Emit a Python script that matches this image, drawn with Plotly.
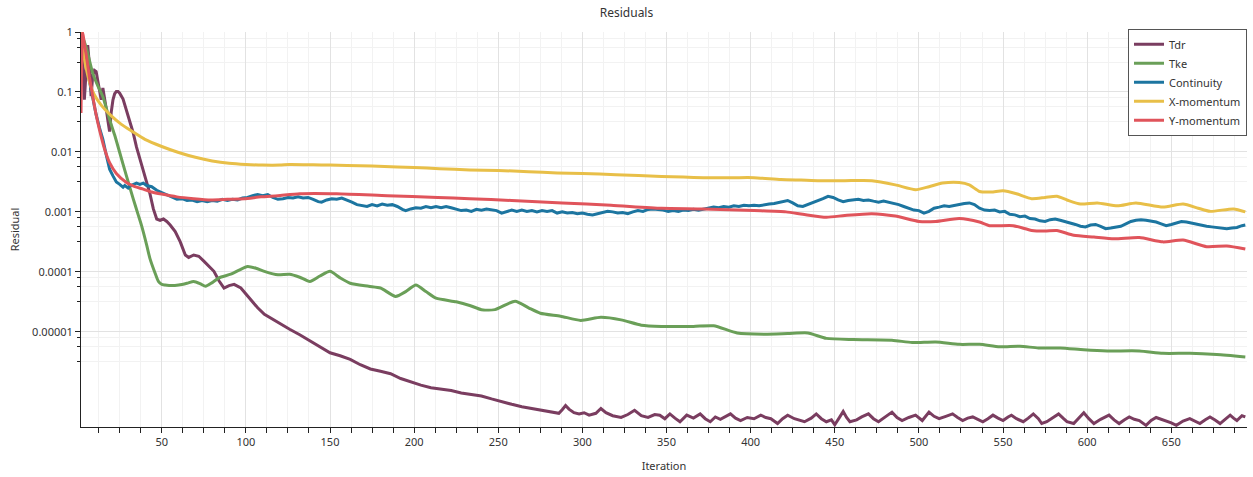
import plotly.graph_objects as go

# ---- residual history (iteration, residual) ----
tdr_iter = [2, 3, 4, 5, 6, 7, 8, 9, 10, 11, 12, 13, 14, 15, 16, 17, 18, 19, 20, 21, 22, 23, 24, 25,
            27, 29, 31, 33, 35, 37, 39, 41, 43, 45, 47, 49, 51, 53, 55, 58, 61, 64, 66, 69, 72, 75,
            78, 81, 84, 87, 90, 93, 97, 100, 103, 107, 111, 115, 119, 126, 132, 138, 144, 150, 156,
            162, 168, 174, 180, 186, 192, 198, 204, 210, 216, 222, 228, 234, 240, 246, 252, 258,
            264, 270, 276, 282, 286, 288, 290, 292, 295, 298, 301, 304, 308, 311, 314, 318, 323,
            327, 331, 335, 339, 343, 346, 349, 352, 355, 358, 362, 366, 370, 373, 376, 379, 382,
            385, 388, 391, 394, 398, 402, 406, 409, 412, 416, 419, 422, 426, 429, 432, 436, 439,
            442, 445, 448, 450, 453, 455, 457, 459, 463, 466, 470, 473, 476, 480, 484, 487, 490,
            494, 498, 502, 506, 509, 512, 516, 520, 523, 526, 529, 532, 535, 538, 541, 544, 547,
            550, 553, 555, 558, 562, 565, 568, 571, 573, 576, 580, 583, 586, 588, 592, 595, 598,
            601, 604, 608, 613, 616, 619, 622, 625, 628, 631, 635, 638, 641, 644, 647, 650, 653,
            657, 661, 664, 667, 670, 673, 676, 679, 682, 685, 687, 689, 692, 694]
tdr_res = [1.0, 0.355, 0.0741, 0.251, 0.603, 0.282, 0.0851, 0.191, 0.229, 0.219, 0.151, 0.120,
           0.0741, 0.117, 0.0832, 0.0525, 0.0331, 0.0219, 0.0468, 0.0741, 0.0933, 0.102, 0.102,
           0.0955, 0.0759, 0.0501, 0.0331, 0.0209, 0.0120, 7.59e-3, 5.01e-3, 3.16e-3, 2.00e-3,
           1.12e-3, 7.59e-4, 7.24e-4, 7.59e-4, 6.92e-4, 6.03e-4, 4.68e-4, 3.16e-4, 1.91e-4,
           1.74e-4, 1.91e-4, 1.82e-4, 1.51e-4, 1.26e-4, 1.02e-4, 7.08e-5, 5.37e-5, 5.89e-5,
           6.17e-5, 5.37e-5, 4.27e-5, 3.39e-5, 2.51e-5, 1.95e-5, 1.66e-5, 1.41e-5, 1.10e-5,
           8.91e-6, 7.08e-6, 5.62e-6, 4.47e-6, 3.98e-6, 3.47e-6, 2.82e-6, 2.40e-6, 2.19e-6,
           2.00e-6, 1.66e-6, 1.45e-6, 1.29e-6, 1.17e-6, 1.10e-6, 1.05e-6, 9.55e-7, 9.12e-7,
           8.51e-7, 7.59e-7, 6.76e-7, 6.17e-7, 5.62e-7, 5.25e-7, 4.90e-7, 4.57e-7, 4.37e-7,
           5.01e-7, 5.89e-7, 5.13e-7, 4.47e-7, 4.27e-7, 4.47e-7, 4.07e-7, 4.37e-7, 5.25e-7,
           4.47e-7, 3.98e-7, 3.72e-7, 4.17e-7, 4.90e-7, 3.98e-7, 3.72e-7, 4.17e-7, 4.07e-7,
           3.55e-7, 4.27e-7, 3.63e-7, 3.16e-7, 4.07e-7, 3.63e-7, 4.27e-7, 3.55e-7, 3.16e-7,
           3.80e-7, 3.47e-7, 3.89e-7, 4.27e-7, 3.63e-7, 3.31e-7, 3.72e-7, 3.55e-7, 4.07e-7,
           3.72e-7, 3.55e-7, 2.95e-7, 3.55e-7, 4.07e-7, 3.55e-7, 3.31e-7, 3.16e-7, 3.63e-7,
           4.27e-7, 3.55e-7, 3.16e-7, 3.39e-7, 2.82e-7, 3.80e-7, 4.68e-7, 3.72e-7, 3.16e-7,
           3.39e-7, 3.80e-7, 4.27e-7, 3.55e-7, 3.16e-7, 3.80e-7, 4.57e-7, 3.72e-7, 3.31e-7,
           3.72e-7, 4.07e-7, 3.31e-7, 4.57e-7, 3.89e-7, 3.55e-7, 3.89e-7, 4.27e-7, 3.72e-7,
           3.31e-7, 3.63e-7, 3.80e-7, 3.47e-7, 3.16e-7, 3.55e-7, 4.07e-7, 3.63e-7, 3.31e-7,
           3.80e-7, 4.07e-7, 3.55e-7, 3.16e-7, 3.63e-7, 4.27e-7, 3.55e-7, 2.95e-7, 3.16e-7,
           3.72e-7, 4.27e-7, 3.55e-7, 3.16e-7, 2.95e-7, 3.63e-7, 4.47e-7, 3.55e-7, 2.95e-7,
           3.47e-7, 4.07e-7, 3.39e-7, 2.95e-7, 3.39e-7, 3.80e-7, 3.47e-7, 3.31e-7, 2.75e-7,
           3.31e-7, 3.72e-7, 3.47e-7, 3.31e-7, 3.02e-7, 2.75e-7, 3.24e-7, 3.55e-7, 3.24e-7,
           2.95e-7, 3.39e-7, 3.80e-7, 3.39e-7, 2.95e-7, 3.47e-7, 4.07e-7, 3.63e-7, 3.31e-7,
           3.98e-7, 3.80e-7]

tke_iter = [2, 5, 9, 12, 15, 19, 22, 25, 29, 33, 36, 38, 41, 43, 46, 48, 50, 52, 56, 60, 65, 69,
            73, 76, 80, 84, 91, 96, 101, 106, 111, 119, 126, 132, 138, 144, 150, 156, 162, 173,
            180, 189, 195, 201, 207, 213, 225, 233, 240, 248, 260, 268, 275, 287, 299, 311, 323,
            335, 347, 366, 378, 392, 408, 422, 434, 445, 461, 484, 496, 510, 524, 536, 548, 560,
            571, 584, 598, 612, 631, 645, 661, 677, 694]
tke_res = [1.0, 0.562, 0.204, 0.126, 0.0832, 0.0347, 0.0191, 9.77e-3, 3.98e-3, 1.66e-3, 8.91e-4,
           5.89e-4, 2.82e-4, 1.66e-4, 9.55e-5, 6.92e-5, 6.17e-5, 6.03e-5, 5.89e-5, 6.03e-5,
           6.46e-5, 6.92e-5, 6.31e-5, 5.75e-5, 6.61e-5, 7.94e-5, 9.12e-5, 1.07e-4, 1.23e-4,
           1.15e-4, 1.02e-4, 8.91e-5, 9.12e-5, 8.13e-5, 6.92e-5, 8.51e-5, 1.02e-4, 7.94e-5,
           6.46e-5, 5.75e-5, 5.37e-5, 3.89e-5, 4.68e-5, 6.03e-5, 4.68e-5, 3.63e-5, 3.16e-5,
           2.75e-5, 2.34e-5, 2.34e-5, 3.24e-5, 2.51e-5, 2.04e-5, 1.82e-5, 1.55e-5, 1.74e-5,
           1.58e-5, 1.29e-5, 1.23e-5, 1.23e-5, 1.26e-5, 9.55e-6, 9.12e-6, 9.33e-6, 9.55e-6,
           7.76e-6, 7.41e-6, 7.24e-6, 6.61e-6, 6.76e-6, 6.17e-6, 6.17e-6, 5.62e-6, 5.75e-6,
           5.37e-6, 5.37e-6, 5.01e-6, 4.79e-6, 4.79e-6, 4.37e-6, 4.37e-6, 4.17e-6, 3.80e-6]

cont_iter = [2, 3, 5, 7, 9, 11, 13, 15, 17, 19, 21, 23, 25, 27, 28, 30, 31, 33, 35, 37, 39, 41,
             44, 47, 50, 53, 56, 59, 62, 65, 68, 71, 74, 77, 80, 83, 86, 89, 92, 95, 98, 101,
             104, 107, 110, 113, 116, 119, 122, 125, 128, 131, 134, 137, 140, 143, 145, 148, 151,
             154, 157, 160, 163, 166, 169, 172, 175, 178, 181, 184, 187, 190, 193, 195, 198, 201,
             204, 207, 210, 213, 216, 219, 222, 225, 228, 231, 234, 237, 240, 243, 246, 249, 252,
             255, 258, 261, 264, 267, 270, 273, 276, 279, 282, 285, 288, 291, 294, 297, 300, 303,
             306, 309, 312, 315, 318, 321, 324, 327, 330, 333, 336, 339, 342, 345, 348, 351, 354,
             357, 360, 363, 366, 369, 372, 375, 378, 381, 384, 387, 390, 393, 396, 399, 402, 405,
             408, 411, 414, 417, 420, 422, 425, 428, 431, 434, 437, 440, 443, 446, 449, 452, 455,
             458, 461, 464, 467, 470, 473, 476, 479, 482, 485, 488, 491, 494, 497, 500, 503, 506,
             509, 512, 515, 518, 521, 524, 527, 530, 533, 536, 539, 542, 545, 548, 551, 554, 557,
             560, 563, 566, 569, 572, 575, 578, 581, 584, 587, 590, 593, 596, 599, 602, 605, 608,
             611, 614, 617, 620, 623, 626, 629, 632, 635, 638, 641, 644, 647, 650, 653, 656, 659,
             662, 665, 668, 671, 674, 677, 680, 683, 686, 689, 692, 694]
cont_res = [1.0, 0.708, 0.339, 0.151, 0.0741, 0.0417, 0.0251, 0.0162, 8.91e-3, 5.13e-3, 3.98e-3,
            3.16e-3, 2.88e-3, 2.57e-3, 2.75e-3, 2.51e-3, 2.69e-3, 2.82e-3, 3.02e-3, 2.88e-3,
            3.02e-3, 2.75e-3, 2.63e-3, 2.29e-3, 2.09e-3, 1.91e-3, 1.78e-3, 1.62e-3, 1.66e-3,
            1.55e-3, 1.58e-3, 1.48e-3, 1.55e-3, 1.48e-3, 1.55e-3, 1.51e-3, 1.62e-3, 1.55e-3,
            1.62e-3, 1.58e-3, 1.70e-3, 1.74e-3, 1.86e-3, 1.95e-3, 1.86e-3, 1.95e-3, 1.74e-3,
            1.62e-3, 1.66e-3, 1.74e-3, 1.70e-3, 1.78e-3, 1.70e-3, 1.74e-3, 1.62e-3, 1.48e-3,
            1.45e-3, 1.58e-3, 1.66e-3, 1.62e-3, 1.70e-3, 1.58e-3, 1.45e-3, 1.32e-3, 1.29e-3,
            1.23e-3, 1.32e-3, 1.26e-3, 1.35e-3, 1.29e-3, 1.32e-3, 1.23e-3, 1.10e-3, 1.05e-3,
            1.12e-3, 1.17e-3, 1.15e-3, 1.23e-3, 1.17e-3, 1.23e-3, 1.17e-3, 1.23e-3, 1.17e-3,
            1.10e-3, 1.05e-3, 1.07e-3, 1.02e-3, 1.10e-3, 1.07e-3, 1.12e-3, 1.10e-3, 1.05e-3,
            9.55e-4, 1.02e-3, 1.07e-3, 1.02e-3, 1.07e-3, 1.02e-3, 1.05e-3, 1.00e-3, 1.05e-3,
            1.02e-3, 1.05e-3, 9.55e-4, 1.00e-3, 9.55e-4, 9.77e-4, 9.33e-4, 9.55e-4, 9.12e-4,
            8.91e-4, 9.33e-4, 9.77e-4, 1.02e-3, 1.00e-3, 9.55e-4, 9.77e-4, 9.33e-4, 1.00e-3,
            1.05e-3, 1.02e-3, 1.10e-3, 1.12e-3, 1.10e-3, 1.07e-3, 1.02e-3, 1.05e-3, 1.02e-3,
            1.07e-3, 1.05e-3, 1.10e-3, 1.07e-3, 1.12e-3, 1.15e-3, 1.20e-3, 1.17e-3, 1.23e-3,
            1.20e-3, 1.26e-3, 1.23e-3, 1.29e-3, 1.26e-3, 1.29e-3, 1.26e-3, 1.32e-3, 1.35e-3,
            1.38e-3, 1.45e-3, 1.51e-3, 1.55e-3, 1.41e-3, 1.26e-3, 1.23e-3, 1.32e-3, 1.41e-3,
            1.51e-3, 1.66e-3, 1.82e-3, 1.74e-3, 1.58e-3, 1.48e-3, 1.55e-3, 1.58e-3, 1.62e-3,
            1.55e-3, 1.58e-3, 1.51e-3, 1.45e-3, 1.51e-3, 1.45e-3, 1.38e-3, 1.32e-3, 1.23e-3,
            1.15e-3, 1.07e-3, 1.05e-3, 9.55e-4, 1.02e-3, 1.15e-3, 1.20e-3, 1.26e-3, 1.23e-3,
            1.29e-3, 1.32e-3, 1.38e-3, 1.41e-3, 1.32e-3, 1.15e-3, 1.07e-3, 1.05e-3, 1.07e-3,
            1.00e-3, 1.02e-3, 9.12e-4, 8.91e-4, 8.32e-4, 8.51e-4, 7.76e-4, 7.59e-4, 7.08e-4,
            6.92e-4, 7.41e-4, 7.59e-4, 7.24e-4, 6.92e-4, 6.46e-4, 6.17e-4, 5.75e-4, 5.62e-4,
            6.03e-4, 6.17e-4, 5.75e-4, 5.25e-4, 5.37e-4, 5.62e-4, 5.75e-4, 6.31e-4, 6.92e-4,
            7.24e-4, 7.41e-4, 7.24e-4, 7.08e-4, 6.76e-4, 6.31e-4, 5.89e-4, 6.17e-4, 6.61e-4,
            6.92e-4, 6.76e-4, 6.46e-4, 6.17e-4, 6.03e-4, 5.75e-4, 5.62e-4, 5.50e-4, 5.37e-4,
            5.25e-4, 5.37e-4, 5.50e-4, 5.89e-4, 6.03e-4]

xmom_iter = [2, 4, 6, 8, 10, 14, 20, 26, 32, 40, 50, 60, 70, 80, 90, 100, 110, 120, 126, 140,
             150, 160, 175, 190, 200, 215, 233, 250, 268, 285, 300, 320, 347, 360, 372, 390, 402,
             418, 430, 441, 456, 472, 486, 498, 506, 514, 524, 530, 536, 543, 550, 558, 567, 575,
             582, 588, 596, 606, 618, 629, 645, 657, 666, 673, 687, 694]
xmom_res = [1.0, 0.355, 0.191, 0.120, 0.0891, 0.0603, 0.0398, 0.0288, 0.0224, 0.0162, 0.0123,
            9.77e-3, 8.13e-3, 7.08e-3, 6.46e-3, 6.17e-3, 6.03e-3, 6.03e-3, 6.17e-3, 6.10e-3,
            6.03e-3, 5.96e-3, 5.82e-3, 5.62e-3, 5.50e-3, 5.25e-3, 5.01e-3, 4.90e-3, 4.68e-3,
            4.47e-3, 4.37e-3, 4.17e-3, 3.89e-3, 3.80e-3, 3.72e-3, 3.72e-3, 3.72e-3, 3.47e-3,
            3.39e-3, 3.31e-3, 3.31e-3, 3.31e-3, 2.82e-3, 2.34e-3, 2.63e-3, 3.02e-3, 3.09e-3,
            2.82e-3, 2.19e-3, 2.14e-3, 2.24e-3, 2.00e-3, 1.66e-3, 1.74e-3, 1.82e-3, 1.58e-3,
            1.35e-3, 1.41e-3, 1.26e-3, 1.41e-3, 1.20e-3, 1.35e-3, 1.15e-3, 1.02e-3, 1.12e-3,
            1.00e-3]

ymom_iter = [2, 3, 4, 5, 7, 9, 11, 13, 16, 19, 23, 29, 34, 39, 44, 49, 59, 69, 79, 89, 99, 109,
             119, 132, 154, 184, 214, 233, 258, 288, 317, 347, 372, 402, 421, 431, 445, 456, 472,
             486, 500, 510, 524, 536, 542, 556, 567, 575, 582, 592, 604, 616, 631, 645, 657, 671,
             683, 694]
ymom_res = [0.0447, 1.0, 0.631, 0.437, 0.178, 0.0832, 0.0417, 0.0234, 0.0112, 6.61e-3, 4.37e-3,
            3.09e-3, 2.63e-3, 2.40e-3, 2.14e-3, 2.00e-3, 1.78e-3, 1.66e-3, 1.58e-3, 1.62e-3,
            1.66e-3, 1.78e-3, 1.86e-3, 2.00e-3, 2.00e-3, 1.86e-3, 1.74e-3, 1.66e-3, 1.55e-3,
            1.41e-3, 1.29e-3, 1.15e-3, 1.12e-3, 1.05e-3, 1.00e-3, 9.12e-4, 8.13e-4, 8.71e-4,
            9.33e-4, 8.51e-4, 6.92e-4, 6.92e-4, 7.76e-4, 6.76e-4, 5.89e-4, 5.89e-4, 4.90e-4,
            4.79e-4, 4.90e-4, 4.07e-4, 3.80e-4, 3.55e-4, 3.72e-4, 3.16e-4, 3.39e-4, 2.63e-4,
            2.69e-4, 2.40e-4]

series_names = ["Tdr", "Tke", "Continuity", "X-momentum", "Y-momentum"]
y_tick_vals = [1, 0.1, 0.01, 0.001, 0.0001, 0.00001]
y_tick_text = ["1", "0.1", "0.01", "0.001", "0.0001", "0.00001"]
x_tick_vals = [50, 100, 150, 200, 250, 300, 350, 400, 450, 500, 550, 600, 650]

# ---- styling ----
FONT = "Noto Sans"
TEXT = "#333333"
colors = ["#7a3d60", "#6a9f58", "#1c75a0", "#e8bf48", "#e0545b"]
smooth = [False, True, False, True, True]
data = [(tdr_iter, tdr_res), (tke_iter, tke_res), (cont_iter, cont_res),
        (xmom_iter, xmom_res), (ymom_iter, ymom_res)]

# light grid lines inside each decade
minor_y = []
for v in y_tick_vals:
    for f in (0.794, 0.562, 0.316):
        minor_y.append(v * f)

fig = go.Figure()
for name, (xs, ys), c, sm in zip(series_names, data, colors, smooth):
    line = dict(color=c, width=3)
    if sm:
        line.update(shape="spline", smoothing=0.6)
    fig.add_trace(go.Scatter(x=xs, y=ys, mode="lines", name=name, line=line))

fig.update_layout(
    width=1253, height=477,
    margin=dict(l=81, r=6, t=32, b=47),
    paper_bgcolor="white", plot_bgcolor="white",
    font=dict(family=FONT, size=11, color=TEXT),
    title=dict(text="Residuals", x=0.5, xanchor="center", y=1 - 13 / 477, yanchor="middle",
               font=dict(family=FONT, size=12, color=TEXT)),
    legend=dict(x=1, xanchor="right", y=1.008, yanchor="top", bgcolor="white",
                bordercolor="#555555", borderwidth=1, font=dict(size=11, color=TEXT),
                tracegroupgap=0, itemwidth=30),
    showlegend=True,
)

fig.update_xaxes(
    range=[2, 695], tickmode="array", tickvals=x_tick_vals,
    showline=True, linecolor="#222222", linewidth=1,
    ticks="outside", ticklen=5, tickcolor="#222222",
    showgrid=True, gridcolor="#e2e2e2", gridwidth=1, zeroline=False,
    minor=dict(dtick=12.5, tick0=0, ticks="outside", ticklen=5, tickcolor="#222222",
               showgrid=True, gridcolor="#f2f2f2", gridwidth=1),
    title=dict(text="Iteration", standoff=14, font=dict(size=11, color=TEXT)),
    tickfont=dict(size=11, color=TEXT),
)

fig.update_yaxes(
    type="log", range=[-6.588, 0], tickmode="array", tickvals=y_tick_vals, ticktext=y_tick_text,
    showline=True, linecolor="#222222", linewidth=1,
    ticks="outside", ticklen=5, tickcolor="#222222",
    showgrid=True, gridcolor="#e2e2e2", gridwidth=1, zeroline=False,
    minor=dict(tickmode="array", tickvals=minor_y, ticks="outside", ticklen=3,
               tickcolor="#222222", showgrid=True, gridcolor="#f2f2f2", gridwidth=1),
    title=dict(text="Residual", standoff=10, font=dict(size=11, color=TEXT)),
    tickfont=dict(size=11, color=TEXT),
)

fig.write_html("out.html")
